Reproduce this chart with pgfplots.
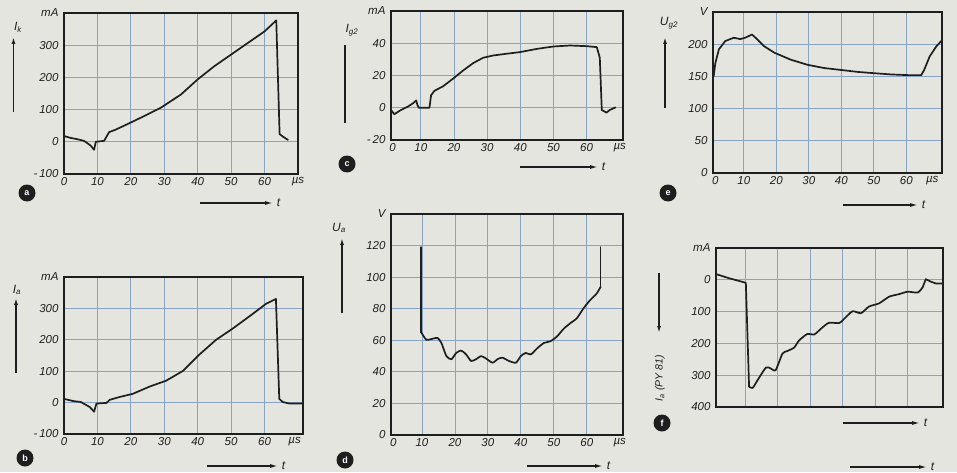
\documentclass[border=0pt]{standalone}
\usepackage{fontspec}
\setmainfont{Liberation Sans}
\usepackage{pgfplots}
\pgfplotsset{compat=1.18}
\usetikzlibrary{arrows.meta}
\definecolor{paper}{RGB}{229,229,223}
\definecolor{gridc}{RGB}{135,165,195}
\definecolor{ink}{RGB}{30,30,30}
\pgfplotsset{panel/.style={scale only axis, anchor=south west,
  axis line style={line width=1.4pt, ink},
  grid=major, major grid style={gridc, line width=0.8pt},
  major tick length=0pt,
  ticklabel style={font=\itshape\fontsize{11.5}{12}\selectfont, text=ink},
  yticklabel style={xshift=-2pt},
  /pgf/number format/assume math mode=true,
  extra x tick style={grid=none}, extra y tick style={grid=none},
  every axis plot post/.append style={ink, line width=1.7pt, line join=round, line cap=round, mark=none}}}
\newcommand\lab[2]{\textit{#1\textsubscript{#2}}}
\begin{document}
\begin{tikzpicture}
\useasboundingbox (0,0) rectangle (957pt,472pt);
\fill[paper] (0,0) rectangle (957pt,472pt);
% panel a
\begin{axis}[panel, at={(64pt,298pt)}, width=234pt, height=161pt,
  xmin=0, xmax=70, ymin=-100, ymax=400,
  xtick={0,10,...,60}, ytick={-100,0,100,200,300},
  yticklabels={-\,100,0,100,200,300},
  extra x ticks={70}, extra x tick labels={µs},
  extra y ticks={400}, extra y tick labels={mA}]
\addplot coordinates {(0,18) (2,12) (4,8) (6,3) (8,-12) (9,-25) (9.5,0) (12,3) (13.5,30) (15.5,38) (19,55) (23,75) (29,106) (35,147) (40,194) (45,235) (50,271) (55,307) (60,343) (63.5,377) (64.5,24) (65.5,16) (67,6)};
\end{axis}
% panel c
\begin{axis}[panel, at={(391pt,332pt)}, width=232pt, height=129pt,
  xmin=1, xmax=71, ymin=-20, ymax=60,
  xtick={10,20,...,60}, ytick={-20,0,20,40},
  yticklabels={-\,20,0,20,40},
  extra x ticks={1.5,70}, extra x tick labels={0,µs},
  extra y ticks={60}, extra y tick labels={mA}]
\addplot coordinates {(1,-1.4) (2,-4) (4,-1.4) (6,0.6) (7.6,2.7) (8.6,4.5) (9,1.6) (9.4,0) (12.6,0) (13.1,7.8) (14.1,10.5) (16.7,13.3) (19.7,18) (22.7,23) (25.8,27.7) (28.8,31) (31.8,32.4) (35.9,33.5) (39.9,34.5) (45,36.5) (50,38) (55,38.6) (60,38.2) (63.1,37.6) (64,31) (64.6,-1.4) (66,-3) (67,-1.4) (68.7,0.2)};
\end{axis}
% panel e
\begin{axis}[panel, at={(713pt,299pt)}, width=229pt, height=161pt,
  xmin=0.5, xmax=71, ymin=0, ymax=250,
  xtick={10,20,...,60}, ytick={0,50,...,200},
  extra x ticks={1.2,68}, extra x tick labels={0,µs},
  extra y ticks={250}, extra y tick labels={V}]
\addplot coordinates {(0.7,150) (1.2,170) (2.3,192) (4.3,205) (6.9,210) (8.9,208) (10.4,210) (12.5,215) (13.6,210) (16.2,197) (19.3,187) (24.4,176) (29.6,168) (34.7,163) (39.9,160) (45,157) (50,155) (55.4,153) (60.5,152) (64.6,152) (65.5,160) (67.2,181) (69.3,197) (70.8,205)};
\end{axis}
% panel b
\begin{axis}[panel, at={(64pt,38pt)}, width=239pt, height=157pt,
  xmin=0, xmax=71.5, ymin=-100, ymax=400,
  xtick={0,10,...,60}, ytick={-100,0,100,200,300},
  yticklabels={-\,100,0,100,200,300},
  extra x ticks={69}, extra x tick labels={µs},
  extra y ticks={400}, extra y tick labels={mA}]
\addplot coordinates {(0,12) (2.7,5) (5,2) (7.7,-14) (9,-29) (9.7,-3) (12.7,-1) (13.7,9) (16.7,18) (20.6,28) (25.6,51) (30.6,70) (35.6,101) (40.5,153) (45.5,200) (50.5,236) (55.5,275) (60.5,315) (63.4,330) (64.4,12) (65.4,2) (67.4,-3) (71.5,-3)};
\end{axis}
% panel d
\begin{axis}[panel, at={(391pt,37pt)}, width=232pt, height=221pt,
  xmin=0.6, xmax=71, ymin=0, ymax=140,
  xtick={10,20,...,60}, ytick={0,20,...,120},
  extra x ticks={1.3,70}, extra x tick labels={0,µs},
  extra y ticks={140}, extra y tick labels={V}]
\addplot coordinates {(9.8,119) (9.8,65)};
\addplot[smooth, tension=0.4] coordinates {(9.8,65) (11.3,60.4) (13.3,61) (14.7,61.5) (15.9,58.3) (17.4,50) (18.9,48) (20.4,52) (21.9,53.5) (23.4,51) (24.9,46.9) (26.4,48) (27.9,50) (29.4,48.5) (31.4,45.8) (32.9,48) (34.4,49) (36.4,46.9) (38.5,45.8) (40,50) (41.5,52) (43,51) (45,55) (47,58.3) (49,59.4) (51,62.5) (53,67.3) (55,70.8) (57,74) (59,80.2) (61,85.4) (63,89.6) (64.2,93.8)};
\addplot coordinates {(64.2,93.8) (64.2,119)};
\end{axis}
% panel f
\begin{axis}[panel, at={(716pt,65pt)}, width=227pt, height=159pt,
  xmin=1, xmax=71, ymin=-100, ymax=400, y dir=reverse,
  xtick={10,20,...,60}, xticklabels={}, ytick={0,100,...,400},
  extra y ticks={-100}, extra y tick labels={mA}]
\addplot coordinates {(1,-18) (5,-5) (9.7,8) (10.2,10) (11.2,336)};
\addplot[smooth, tension=0.4] coordinates {(11.2,336) (12.3,340) (13.8,316) (16.4,276) (17.9,279) (19.4,284) (21.5,232) (23,224) (25.1,213) (26.6,191) (29.2,170) (31.3,172) (33.9,149) (35.9,135) (39,136) (40.5,123) (43.1,99) (45.7,105) (48.2,84) (51.3,74) (54.4,53) (57.5,45) (60.1,37.5) (63.2,40) (64.7,24)};
\addplot coordinates {(64.7,24) (65.7,-2) (67.3,6) (68.8,11.5) (71,11.5)};
\end{axis}
% quantity labels and arrows
\begin{scope}[line width=1.8pt, ink, font=\itshape\fontsize{12}{12}\selectfont]
\node[text=ink] at (18pt,445pt) {\lab{I}{k}};
\draw[-{Latex[length=7pt,width=4pt]}] (13.5pt,360pt) -- (13.5pt,435pt);
\node[text=ink] at (352pt,442pt) {\lab{I}{g2}};
\draw (345pt,349pt) -- (345pt,427pt);
\node[text=ink] at (669pt,449pt) {\lab{U}{g2}};
\draw[-{Latex[length=7pt,width=4pt]}] (665pt,364pt) -- (665pt,435pt);
\node[text=ink] at (17pt,182pt) {\lab{I}{a}};
\draw[-{Latex[length=7pt,width=4pt]}] (16pt,99pt) -- (16pt,174pt);
\node[text=ink] at (339pt,244pt) {\lab{U}{a}};
\draw[-{Latex[length=7pt,width=4pt]}] (342pt,159pt) -- (342pt,234pt);
\draw[-{Latex[length=7pt,width=4pt]}] (659pt,199pt) -- (659pt,139pt);
\node[text=ink, rotate=90, font=\itshape\fontsize{10.5}{11}\selectfont] at (660pt,94pt) {\lab{I}{a}\textit{ (PY 81)}};
% time arrows
\foreach \xa/\xb/\yy in {200/273/269, 520/598/305, 843/918/267, 207/278/6, 527/603/6, 843/920/49, 850/927/5}{
  \draw[line width=1.3pt, -{Latex[length=8pt,width=4pt]}] (\xa pt,\yy pt) -- (\xb pt,\yy pt);
  \node[text=ink, anchor=west, inner sep=1pt] at (\xb pt+2pt,\yy pt) {\textit{t}};
}
% panel badges
\foreach \cx/\cy/\l in {27/279/a, 347/308/c, 668/279/e, 25/14/b, 345/12/d, 662/49/f}{
  \fill[ink] (\cx pt,\cy pt) circle (8.5pt);
  \node[text=white, font=\bfseries\fontsize{9}{9}\selectfont] at (\cx pt,\cy pt) {\l};
}
\end{scope}
\end{tikzpicture}
\end{document}
